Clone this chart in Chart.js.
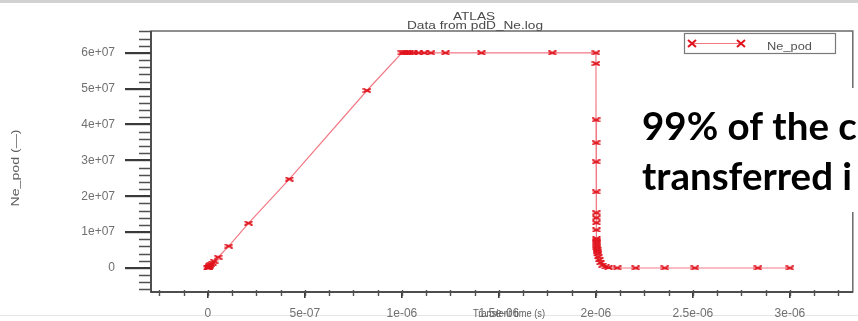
<!DOCTYPE html>
<html>
<head>
<meta charset="utf-8">
<script src="https://cdn.jsdelivr.net/npm/chart.js@4/dist/chart.umd.min.js"></script>
<style>
  html, body { margin: 0; padding: 0; background: #fff; overflow: hidden; }
  #c { display: block; }
</style>
</head>
<body>
<canvas id="c" width="858" height="321"></canvas>
<script>
// Transient time (s) of each logged step
const times = [
  0, 2e-9, 4e-9, 7e-9, 1.1e-8, 1.6e-8, 2.3e-8, 3.2e-8, 5.3e-8, 1.08e-7, 2.1e-7, 4.2e-7, 8.2e-7, 1.0e-6,
  1.012e-6, 1.025e-6, 1.04e-6, 1.06e-6, 1.085e-6, 1.115e-6, 1.15e-6, 1.225e-6, 1.41e-6, 1.775e-6, 2.0e-6,
  2.0003e-6, 2.0006e-6, 2.0009e-6, 2.0012e-6, 2.0015e-6, 2.0018e-6, 2.0021e-6, 2.0024e-6, 2.0027e-6,
  2.003e-6, 2.0035e-6, 2.004e-6, 2.0045e-6, 2.005e-6, 2.006e-6, 2.007e-6, 2.009e-6, 2.012e-6, 2.017e-6,
  2.024e-6, 2.035e-6, 2.05e-6, 2.065e-6, 2.11e-6, 2.205e-6, 2.355e-6, 2.51e-6, 2.835e-6, 3.0e-6
];
// Ne_pod value at each step
const nePod = [
  0, 1.2e5, 2.4e5, 4.2e5, 6.6e5, 9.6e5, 1.38e6, 1.92e6, 3.0e6, 6.1e6, 1.25e7, 2.48e7, 4.95e7, 6.0e7,
  6.0e7, 6.0e7, 6.0e7, 6.0e7, 6.0e7, 6.0e7, 6.0e7, 6.0e7, 6.0e7, 6.0e7, 6.0e7,
  5.7e7, 4.13e7, 3.49e7, 2.96e7, 2.12e7, 1.54e7, 1.4e7, 1.26e7, 1.06e7,
  8.2e6, 7.6e6, 7.0e6, 6.4e6, 5.8e6, 5.2e6, 4.6e6, 3.9e6, 3.1e6, 2.3e6,
  1.5e6, 8e5, 3e5, 1e5, 2e4, 0, 0, 0, 0, 0
];

const xTickValues = [0, 5e-7, 1e-6, 1.5e-6, 2e-6, 2.5e-6, 3e-6];
const xTickLabels = ['0', '5e-07', '1e-06', '1.5e-06', '2e-06', '2.5e-06', '3e-06'];
const yTickValues = [0, 1e7, 2e7, 3e7, 4e7, 5e7, 6e7];
const yTickLabels = ['0', '1e+07', '2e+07', '3e+07', '4e+07', '5e+07', '6e+07'];
const xMinorStep = 1.25e-7;
const yMinorStep = 2e6;

const seriesName = 'Ne_pod';
const plotTitle = 'ATLAS';
const plotSubtitle = 'Data from pdD_Ne.log';
const xAxisTitle = 'Transient time (s)';
const yAxisTitle = 'Ne_pod (\u2014)';
const noteLines = ['99% of the c', 'transferred i'];

const RED = '#e0141e';
const LINE = '#f27a86';

// flattened "x" marker used for every data point
function makeMarker(w, h, lw) {
  const m = document.createElement('canvas');
  m.width = w; m.height = h;
  const g = m.getContext('2d');
  g.strokeStyle = RED; g.lineWidth = lw;
  g.beginPath();
  g.moveTo(0.5, 0.5); g.lineTo(w - 0.5, h - 0.5);
  g.moveTo(0.5, h - 0.5); g.lineTo(w - 0.5, 0.5);
  g.stroke();
  return m;
}
const pointMarker = makeMarker(9, 5, 1.9);

function stretchedText(ctx, text, x, y, width, align) {
  const w = ctx.measureText(text).width;
  const sx = width / w;
  ctx.save();
  ctx.translate(x, y);
  ctx.scale(sx, 1);
  ctx.textAlign = align || 'center';
  ctx.fillText(text, 0, 0);
  ctx.restore();
}

const decor = {
  id: 'decor',
  beforeDraw(chart) {
    const ctx = chart.ctx;
    ctx.save();
    ctx.fillStyle = '#fff';
    ctx.fillRect(0, 0, chart.width, chart.height);
    ctx.fillStyle = '#d2d2d2';
    ctx.fillRect(0, 0, chart.width, 3);
    ctx.fillStyle = '#e6e6e6';
    ctx.fillRect(0, 315, chart.width, 1);
    ctx.restore();
  },
  beforeDatasetsDraw(chart) {
    const ctx = chart.ctx;
    const a = chart.chartArea;
    const xs = chart.scales.x, ys = chart.scales.y;
    ctx.save();
    // frame
    ctx.strokeStyle = '#6a6a6a';
    ctx.lineWidth = 1.5;
    ctx.strokeRect(a.left, a.top, a.right - a.left, a.bottom - a.top);
    ctx.strokeStyle = '#3a3a3a';
    ctx.beginPath();
    ctx.moveTo(a.left, a.top); ctx.lineTo(a.left, a.bottom); ctx.lineTo(a.right, a.bottom);
    ctx.stroke();
    // minor ticks
    ctx.strokeStyle = '#505050';
    ctx.lineWidth = 1.4;
    ctx.beginPath();
    for (let k = Math.ceil(ys.min / yMinorStep); k * yMinorStep <= ys.max; k++) {
      const v = k * yMinorStep;
      if (Math.abs(v % 1e7) < 1) continue;
      const py = Math.round(ys.getPixelForValue(v)) + 0.5;
      ctx.moveTo(a.left - 12, py); ctx.lineTo(a.left, py);
    }
    for (let k = Math.ceil(xs.min / xMinorStep); k * xMinorStep <= xs.max; k++) {
      const v = k * xMinorStep;
      const px = Math.round(xs.getPixelForValue(v)) + 0.5;
      ctx.moveTo(px, a.bottom - 2); ctx.lineTo(px, a.bottom + 4);
    }
    ctx.stroke();
    ctx.restore();
  },
  afterDraw(chart) {
    const ctx = chart.ctx;
    ctx.save();
    // titles
    ctx.fillStyle = '#4a4a4a';
    ctx.textBaseline = 'alphabetic';
    ctx.font = '10px "Liberation Sans", Arial, sans-serif';
    stretchedText(ctx, plotTitle, 474, 20, 42);
    ctx.font = '11px "Liberation Sans", Arial, sans-serif';
    stretchedText(ctx, plotSubtitle, 475, 29, 136);
    // axis titles
    ctx.fillStyle = '#606060';
    ctx.font = '10px "Liberation Sans", Arial, sans-serif';
    stretchedText(ctx, xAxisTitle, 509, 317, 72);
    ctx.save();
    ctx.translate(19, 168);
    ctx.rotate(-Math.PI / 2);
    ctx.font = '11px "Liberation Sans", Arial, sans-serif';
    stretchedText(ctx, yAxisTitle, 0, 0, 77);
    ctx.restore();
    // legend
    ctx.fillStyle = '#fff';
    ctx.fillRect(684, 33, 151, 20);
    ctx.strokeStyle = '#7a7a7a';
    ctx.lineWidth = 1.2;
    ctx.strokeRect(684.5, 33.5, 151, 20);
    ctx.strokeStyle = LINE;
    ctx.lineWidth = 1;
    ctx.beginPath(); ctx.moveTo(692, 43.5); ctx.lineTo(741, 43.5); ctx.stroke();
    ctx.strokeStyle = RED;
    ctx.lineWidth = 2;
    [692, 741].forEach(cx => {
      ctx.beginPath();
      ctx.moveTo(cx - 4, 40); ctx.lineTo(cx + 4, 47);
      ctx.moveTo(cx - 4, 47); ctx.lineTo(cx + 4, 40);
      ctx.stroke();
    });
    ctx.fillStyle = '#555';
    ctx.font = '10px "Liberation Sans", Arial, sans-serif';
    stretchedText(ctx, seriesName, 767, 50, 45, 'left');
    // callout text
    ctx.fillStyle = '#fff';
    ctx.fillRect(632, 88, chart.width - 632, 124);
    ctx.fillStyle = '#000';
    ctx.font = 'bold 38.5px Lato, "Liberation Sans", sans-serif';
    ctx.textAlign = 'left';
    ctx.fillText(noteLines[0], 642, 140);
    ctx.fillText(noteLines[1], 642, 190);
    ctx.restore();
  }
};

new Chart(document.getElementById('c'), {
  type: 'scatter',
  data: {
    datasets: [{
      label: seriesName,
      data: times.map((t, i) => ({ x: t, y: nePod[i] })),
      showLine: true,
      borderColor: LINE,
      borderWidth: 1.2,
      pointStyle: pointMarker,
      pointRadius: 4,
      clip: false
    }]
  },
  options: {
    responsive: false,
    animation: false,
    devicePixelRatio: 1,
    layout: { padding: { top: 31, right: 3, left: 0, bottom: 0 } },
    plugins: { legend: { display: false }, title: { display: false }, tooltip: { enabled: false } },
    scales: {
      x: {
        type: 'linear',
        min: -2.93e-7,
        max: 3.324e-6,
        afterBuildTicks: s => { s.ticks = xTickValues.map(v => ({ value: v })); },
        afterFit: s => { s.height = 29; },
        border: { display: false },
        grid: { drawOnChartArea: false, drawTicks: true, tickLength: 6, color: '#3a3a3a', lineWidth: 1.6 },
        ticks: {
          autoSkip: false, maxRotation: 0, padding: 8, color: '#707070',
          font: { family: '"Liberation Sans", Arial, sans-serif', size: 12 },
          callback: (v, i) => xTickLabels[i]
        }
      },
      y: {
        type: 'linear',
        min: -6.7e6,
        max: 6.61e7,
        afterBuildTicks: s => { s.ticks = yTickValues.map(v => ({ value: v })); },
        afterFit: s => { s.width = 151; },
        border: { display: false },
        grid: { drawOnChartArea: false, drawTicks: true, tickLength: 26, color: '#3a3a3a', lineWidth: 2.2 },
        ticks: {
          autoSkip: false, padding: 10, color: '#707070',
          font: { family: '"Liberation Sans", Arial, sans-serif', size: 12 },
          callback: (v, i) => yTickLabels[i]
        }
      }
    }
  },
  plugins: [decor]
});
</script>
</body>
</html>
